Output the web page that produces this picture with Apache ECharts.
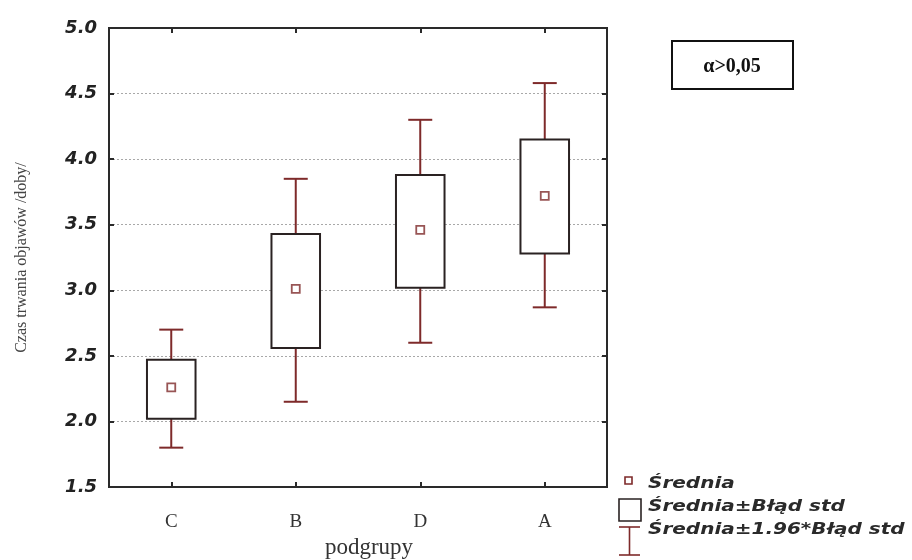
<!DOCTYPE html>
<html>
<head>
<meta charset="utf-8">
<script src="https://cdn.jsdelivr.net/npm/echarts@6/dist/echarts.min.js"></script>
<style>html,body{margin:0;padding:0;background:#fff}#c{width:912px;height:560px}</style>
</head>
<body>
<div id="c"></div>
<script>
const categories = ['C', 'B', 'D', 'A'];
const means = [2.26, 3.01, 3.46, 3.72];
const seLow = [2.02, 2.56, 3.02, 3.28];
const seHigh = [2.47, 3.43, 3.88, 4.15];
const ciLow = [1.80, 2.15, 2.60, 2.87];
const ciHigh = [2.70, 3.85, 4.30, 4.58];
const yTicks = [1.5, 2.0, 2.5, 3.0, 3.5, 4.0, 4.5, 5.0];

const BOX = '#2a2222';
const RED = '#7e2a2a';
const legendFont = 'italic bold 16px "DejaVu Sans", "Liberation Sans", Arial';

const chart = echarts.init(document.getElementById('c'));

const whiskerData = categories.map((c, i) => [i, ciLow[i], ciHigh[i], seLow[i], seHigh[i]]);
const boxData = categories.map((c, i) => [i, seLow[i], seHigh[i]]);
const meanData = categories.map((c, i) => [i, means[i]]);

chart.setOption({
  animation: false,
  backgroundColor: '#fff',
  grid: {left: 109, right: 305, top: 28, bottom: 73, show: true, borderColor: '#2a2a2a', borderWidth: 2, outerBoundsMode: 'none', containLabel: false},
  xAxis: [{
    type: 'category', data: categories, boundaryGap: true, position: 'bottom',
    axisLine: {show: true, lineStyle: {color: '#2a2a2a', width: 2}},
    axisTick: {show: true, inside: true, alignWithLabel: true, length: 5, lineStyle: {color: '#2a2a2a', width: 2}},
    axisLabel: {color: '#333', fontFamily: 'Liberation Serif, Times New Roman', fontSize: 19, margin: 26},
    name: 'podgrupy', nameLocation: 'middle', nameGap: 46,
    nameTextStyle: {color: '#333', fontFamily: 'Liberation Serif, Times New Roman', fontSize: 23, padding: [0, 0, 0, 22]}
  }, {
    type: 'category', data: categories, boundaryGap: true, position: 'top',
    axisLine: {show: true, lineStyle: {color: '#2a2a2a', width: 2}},
    axisTick: {show: true, inside: true, alignWithLabel: true, length: 5, lineStyle: {color: '#2a2a2a', width: 2}},
    axisLabel: {show: false}
  }],
  yAxis: [{
    type: 'value', min: 1.5, max: 5.0, interval: 0.5, position: 'left',
    axisLine: {show: true, lineStyle: {color: '#2a2a2a', width: 2}},
    axisTick: {show: true, inside: true, length: 5, lineStyle: {color: '#2a2a2a', width: 2}},
    axisLabel: {color: '#222', fontSize: 18, margin: 12, fontFamily: 'DejaVu Sans', fontWeight: 'bold', fontStyle: 'italic',
      formatter: v => yTicks.find(t => Math.abs(t - v) < 1e-6).toFixed(1)},
    splitLine: {show: true, lineStyle: {color: '#a8a8a8', type: [2, 2], width: 1}},
    name: 'Czas trwania objawów /doby/', nameLocation: 'middle', nameGap: 79, nameRotate: 90,
    nameTextStyle: {color: '#444', fontFamily: 'Liberation Serif, Times New Roman', fontSize: 16}
  }, {
    type: 'value', min: 1.5, max: 5.0, interval: 0.5, position: 'right',
    axisLine: {show: true, lineStyle: {color: '#2a2a2a', width: 2}},
    axisTick: {show: true, inside: true, length: 5, lineStyle: {color: '#2a2a2a', width: 2}},
    axisLabel: {show: false}, splitLine: {show: false}
  }],
  series: [{
    name: 'Średnia±1.96*Błąd std', type: 'custom', xAxisIndex: 0, yAxisIndex: 0, z: 2,
    data: whiskerData,
    renderItem: function (params, api) {
      const x = api.value(0);
      const lo = api.coord([x, api.value(1)]);
      const hi = api.coord([x, api.value(2)]);
      const bl = api.coord([x, api.value(3)]);
      const bh = api.coord([x, api.value(4)]);
      const cw = 12;
      const st = {stroke: RED, lineWidth: 2, fill: null};
      return {type: 'group', children: [
        {type: 'line', shape: {x1: hi[0], y1: hi[1], x2: bh[0], y2: bh[1]}, style: st},
        {type: 'line', shape: {x1: lo[0], y1: lo[1], x2: bl[0], y2: bl[1]}, style: st},
        {type: 'line', shape: {x1: hi[0] - cw, y1: hi[1], x2: hi[0] + cw, y2: hi[1]}, style: st},
        {type: 'line', shape: {x1: lo[0] - cw, y1: lo[1], x2: lo[0] + cw, y2: lo[1]}, style: st}
      ]};
    }
  }, {
    name: 'Średnia±Błąd std', type: 'custom', xAxisIndex: 0, yAxisIndex: 0, z: 3,
    data: boxData,
    renderItem: function (params, api) {
      const x = api.value(0);
      const lo = api.coord([x, api.value(1)]);
      const hi = api.coord([x, api.value(2)]);
      const w = api.size([1, 0])[0] * 0.39;
      return {type: 'rect', shape: {x: lo[0] - w / 2, y: hi[1], width: w, height: lo[1] - hi[1]},
        style: {fill: '#fff', stroke: BOX, lineWidth: 2}};
    }
  }, {
    name: 'Średnia', type: 'scatter', xAxisIndex: 0, yAxisIndex: 0, z: 4,
    data: meanData, symbol: 'rect', symbolSize: 8,
    itemStyle: {color: '#fff', borderColor: RED, borderWidth: 1.8}
  }],
  graphic: [
    {type: 'rect', shape: {x: 672, y: 41, width: 121, height: 48}, style: {fill: '#fff', stroke: '#111', lineWidth: 2}},
    {type: 'text', x: 732, y: 67, style: {text: 'α>0,05', fill: '#111', font: 'bold 20px "Liberation Serif", "Times New Roman"', align: 'center', verticalAlign: 'middle'}},
    {type: 'rect', shape: {x: 625, y: 477, width: 7, height: 7}, style: {fill: '#fff', stroke: RED, lineWidth: 1.6}},
    {type: 'text', x: 648, y: 484, scaleX: 1.25, style: {text: 'Średnia', fill: '#2a2a2a', font: legendFont, verticalAlign: 'middle'}},
    {type: 'rect', shape: {x: 619, y: 499, width: 22, height: 22}, style: {fill: '#fff', stroke: BOX, lineWidth: 1.6}},
    {type: 'text', x: 648, y: 507, scaleX: 1.25, style: {text: 'Średnia±Błąd std', fill: '#2a2a2a', font: legendFont, verticalAlign: 'middle'}},
    {type: 'line', shape: {x1: 619, y1: 527, x2: 640, y2: 527}, style: {stroke: RED, lineWidth: 1.6}},
    {type: 'line', shape: {x1: 629.5, y1: 527, x2: 629.5, y2: 555}, style: {stroke: RED, lineWidth: 1.6}},
    {type: 'line', shape: {x1: 619, y1: 555, x2: 640, y2: 555}, style: {stroke: RED, lineWidth: 1.6}},
    {type: 'text', x: 648, y: 530, scaleX: 1.25, style: {text: 'Średnia±1.96*Błąd std', fill: '#2a2a2a', font: legendFont, verticalAlign: 'middle'}}
  ]
});
</script>
</body>
</html>
